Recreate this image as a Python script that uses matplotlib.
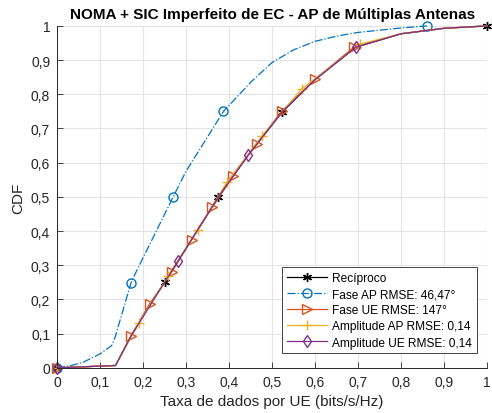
import numpy as np
import matplotlib
matplotlib.use('Agg')
import matplotlib.pyplot as plt
from matplotlib.ticker import FuncFormatter

# CDF levels / rates
recip_rate = [0, 0.136, 0.172, 0.216, 0.25, 0.313, 0.375, 0.445, 0.524, 0.6, 0.695, 0.8, 0.9, 1.0]
recip_cdf = [0, 0.007, 0.093, 0.187, 0.25, 0.375, 0.5, 0.623, 0.749, 0.843, 0.938, 0.977, 0.993, 1.0]
recip_marks = [0, 4, 6, 8, 13]

fap_rate = [0, 0.03, 0.06, 0.1, 0.127, 0.135, 0.172, 0.187, 0.2, 0.27, 0.3, 0.387, 0.45,
            0.5, 0.55, 0.6, 0.65, 0.7, 0.8, 0.86]
fap_cdf = [0, 0.006, 0.016, 0.041, 0.065, 0.09, 0.249, 0.289, 0.322, 0.5, 0.575, 0.75, 0.835,
           0.893, 0.93, 0.955, 0.97, 0.981, 0.994, 1.0]
fap_marks = [0, 6, 9, 11, 19]

fue_rate = [0, 0.136, 0.172, 0.216, 0.267, 0.313, 0.361, 0.41, 0.464, 0.522, 0.6, 0.69, 0.8, 0.9, 1.0]
fue_cdf = [0, 0.007, 0.094, 0.1875, 0.281, 0.375, 0.469, 0.5625, 0.656, 0.75, 0.844, 0.9375,
           0.977, 0.993, 1.0]
fue_marks = [0, 2, 3, 4, 5, 6, 7, 8, 9, 10, 11]

aap_rate = [0, 0.136, 0.19, 0.259, 0.327, 0.395, 0.476, 0.569, 0.705, 0.8, 0.9, 1.0]
aap_cdf = [0, 0.007, 0.131, 0.27, 0.404, 0.543, 0.677, 0.816, 0.947, 0.977, 0.993, 1.0]
aap_marks = [0, 2, 3, 4, 5, 6, 7, 8]

aue_rate = [0, 0.136, 0.172, 0.25, 0.281, 0.375, 0.445, 0.524, 0.6, 0.695, 0.8, 0.9, 1.0]
aue_cdf = [0, 0.007, 0.093, 0.25, 0.312, 0.5, 0.623, 0.749, 0.843, 0.938, 0.977, 0.993, 1.0]
aue_marks = [0, 4, 6, 9]

labels = ['Recíproco', 'Fase AP RMSE: 46,47°', 'Fase UE RMSE: 147°',
          'Amplitude AP RMSE: 0,14', 'Amplitude UE RMSE: 0,14']

plt.rcParams['font.family'] = ['Liberation Sans', 'DejaVu Sans']

fig = plt.figure(figsize=(4.92, 4.14), dpi=100)
ax = fig.add_axes([0.116, 0.109, 0.874, 0.826])

ax.grid(True, color='#e3e3e3', linewidth=0.8, zorder=0)
ax.set_axisbelow(True)

lw = 0.9
ms = 6.5
ax.plot(recip_rate, recip_cdf, color='black', lw=lw, marker=(6, 2, 0), ms=ms,
        markevery=recip_marks, label=labels[0], clip_on=False)
ax.plot(fap_rate, fap_cdf, color='#0072BD', lw=lw, ls='-.', marker='o', ms=ms, mfc='none',
        markevery=fap_marks, label=labels[1], clip_on=False)
ax.plot(fue_rate, fue_cdf, color='#D95319', lw=lw, marker='>', ms=ms, mfc='none',
        markevery=fue_marks, label=labels[2], clip_on=False)
ax.plot(aap_rate, aap_cdf, color='#EDB120', lw=lw, marker='+', ms=ms,
        markevery=aap_marks, label=labels[3], clip_on=False)
ax.plot(aue_rate, aue_cdf, color='#7E2F8E', lw=lw, marker='d', ms=ms, mfc='none',
        markevery=aue_marks, label=labels[4], clip_on=False)

ax.set_xlim(0, 1)
ax.set_ylim(0, 1)
ticks = np.linspace(0, 1, 11)
ax.set_xticks(ticks)
ax.set_yticks(ticks)
fmt = FuncFormatter(lambda v, p: ('%g' % round(v, 2)).replace('.', ','))
ax.xaxis.set_major_formatter(fmt)
ax.yaxis.set_major_formatter(fmt)
ax.tick_params(direction='in', length=4, width=0.6, labelsize=10, colors='#262626', pad=5)
for s in ['top', 'right']:
    ax.spines[s].set_visible(False)
for s in ['left', 'bottom']:
    ax.spines[s].set_color('#262626')
    ax.spines[s].set_linewidth(0.7)

ax.set_xlabel('Taxa de dados por UE (bits/s/Hz)', fontsize=11, color='#262626')
ax.set_ylabel('CDF', fontsize=11, color='#262626')
ax.set_title('NOMA + SIC Imperfeito de EC - AP de Múltiplas Antenas', fontsize=11,
             fontweight='bold', pad=6)

leg = ax.legend(loc='lower right', fontsize=8.6, handlelength=3.4, labelspacing=0.35,
                fancybox=False, framealpha=1, edgecolor='#262626', borderpad=0.4,
                handletextpad=0.4, bbox_to_anchor=(0.99, 0.025))
leg.get_frame().set_linewidth(0.6)

fig.savefig('out.png', dpi=100)
